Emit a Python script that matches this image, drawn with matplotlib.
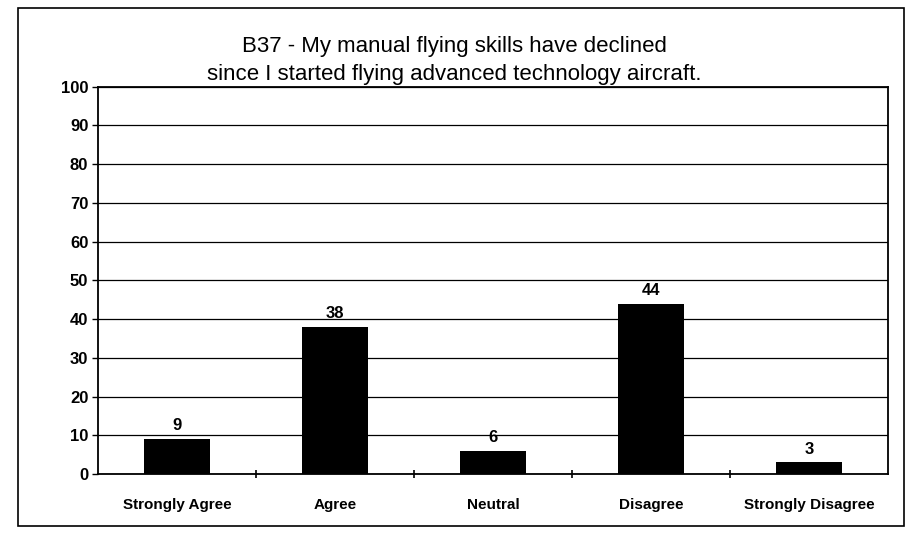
import matplotlib.pyplot as plt
from matplotlib.patches import Rectangle

categories = ['Strongly Agree', 'Agree', 'Neutral', 'Disagree', 'Strongly Disagree']
values = [9, 38, 6, 44, 3]
yticks = [0, 10, 20, 30, 40, 50, 60, 70, 80, 90, 100]

plt.rcParams['font.family'] = ['Liberation Sans', 'DejaVu Sans']

fig = plt.figure(figsize=(9.08, 5.38), dpi=100)
ax = fig.add_axes([0.108, 0.119, 0.87, 0.72])

x = list(range(len(categories)))
ax.bar(x, values, width=0.42, color='black', zorder=3)

for i, v in enumerate(values):
    ax.text(i, v + 1.5, str(v), ha='center', va='bottom',
            fontsize=12, fontweight='bold')

ax.set_xlim(-0.5, len(categories) - 0.5)
ax.set_ylim(0, 100)
ax.set_yticks(yticks)
ax.set_yticklabels([str(t) for t in yticks], fontsize=12, fontweight='bold')
ax.yaxis.grid(True, color='black', linewidth=0.9, zorder=0)

# category labels, ticks at category boundaries
ax.set_xticks(x)
ax.set_xticklabels(categories, fontsize=11, fontweight='bold')
ax.tick_params(axis='x', length=0, pad=17)
ax.set_xticks([i + 0.5 for i in x[:-1]], minor=True)
ax.tick_params(axis='x', which='minor', length=6, direction='inout', width=1.2)
ax.tick_params(axis='y', length=4, width=1, direction='out', pad=3)

for s in ax.spines.values():
    s.set_linewidth(1.3)

fig.text(0.5, 0.887, 'B37 - My manual flying skills have declined\n'
         'since I started flying advanced technology aircraft.',
         ha='center', va='center', fontsize=16, linespacing=1.45)

fig.patches.append(Rectangle((0.02, 0.022), 0.976, 0.963, transform=fig.transFigure,
                             fill=False, edgecolor='black', linewidth=1.2))

fig.savefig('out.png', dpi=100)
